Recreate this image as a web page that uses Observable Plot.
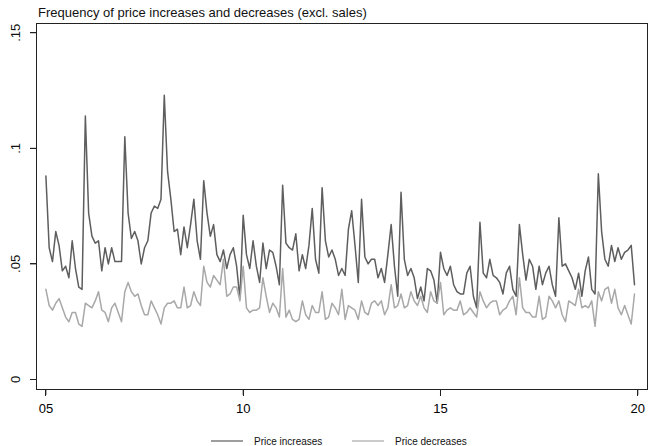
<!DOCTYPE html>
<html><head><meta charset="utf-8">
<script src="https://cdn.jsdelivr.net/npm/d3@7"></script>
<script src="https://cdn.jsdelivr.net/npm/@observablehq/plot@0.6"></script>
<style>body{margin:0;background:#fff} svg{display:block}</style>
</head><body><div id="chart"></div>
<script>
const startYear = 2005; // monthly data, Jan 2005 - Dec 2019
const increases = [
.088,.057,.051,.064,.058,.047,.049,.044,.060,.048,.040,.039,
.114,.072,.062,.059,.060,.047,.057,.050,.057,.051,.051,.051,
.105,.072,.061,.064,.060,.050,.057,.060,.072,.075,.074,.078,
.123,.090,.078,.064,.065,.054,.066,.057,.067,.078,.060,.052,
.086,.072,.062,.067,.054,.051,.056,.048,.054,.057,.049,.035,
.071,.054,.048,.060,.049,.042,.059,.048,.056,.055,.049,.041,
.084,.059,.057,.056,.063,.047,.054,.048,.058,.074,.052,.046,
.083,.060,.053,.056,.052,.045,.048,.045,.065,.073,.058,.042,
.078,.053,.050,.052,.052,.044,.048,.042,.054,.067,.049,.036,
.081,.052,.045,.048,.044,.035,.040,.034,.048,.047,.043,.033,
.055,.048,.045,.049,.041,.038,.037,.037,.046,.049,.036,.031,
.068,.046,.044,.052,.045,.044,.042,.037,.046,.049,.039,.036,
.067,.054,.043,.052,.049,.039,.049,.041,.046,.049,.041,.036,
.070,.049,.050,.047,.044,.039,.046,.036,.047,.053,.039,.037,
.089,.064,.052,.049,.058,.051,.057,.052,.055,.056,.058,.041
];
const decreases = [
.039,.032,.030,.033,.035,.031,.027,.025,.029,.029,.024,.023,
.033,.032,.031,.034,.038,.030,.029,.025,.031,.033,.029,.025,
.038,.042,.038,.036,.037,.032,.028,.028,.034,.031,.028,.024,
.031,.033,.033,.034,.031,.031,.040,.031,.032,.038,.034,.032,
.049,.042,.040,.045,.043,.041,.052,.036,.037,.040,.040,.034,
.049,.031,.029,.030,.030,.031,.044,.036,.029,.033,.031,.027,
.048,.027,.030,.026,.025,.026,.034,.028,.026,.032,.029,.029,
.038,.026,.027,.033,.031,.028,.039,.026,.032,.031,.030,.026,
.034,.029,.028,.033,.034,.032,.034,.028,.031,.041,.031,.032,
.037,.031,.032,.038,.034,.032,.036,.031,.029,.038,.034,.033,
.042,.028,.030,.031,.030,.030,.034,.028,.029,.031,.029,.027,
.038,.034,.031,.033,.034,.034,.028,.030,.031,.034,.036,.028,
.044,.031,.029,.029,.027,.027,.036,.026,.027,.036,.034,.031,
.034,.028,.025,.034,.033,.032,.039,.031,.032,.031,.034,.023,
.038,.034,.039,.040,.033,.039,.031,.028,.032,.028,.024,.037
];
const seriesNames = ["Price increases", "Price decreases"];
const seriesColors = ["#5e5e5e", "#a8a8a8"];
const yTicks = [0, 0.05, 0.1, 0.15];
const yTickLabels = ["0", ".05", ".1", ".15"];
const xTicks = [2005, 2010, 2015, 2020];
const xTickLabels = ["05", "10", "15", "20"];
const titleText = "Frequency of price increases and decreases (excl. sales)";

const xDomain = [2004.762, 2020.246];
const yDomain = [-0.00433, 0.154];

const rows = [];
increases.forEach((v, i) => rows.push({t: startYear + i / 12, v, s: seriesNames[0]}));
decreases.forEach((v, i) => rows.push({t: startYear + i / 12, v, s: seriesNames[1]}));

const font = "Liberation Sans, Arial, sans-serif";
const chart = Plot.plot({
  width: 649, height: 446,
  marginTop: 23, marginLeft: 36, marginRight: 2, marginBottom: 57,
  style: {fontFamily: font, fontSize: "13px", background: "white"},
  x: {domain: xDomain, label: null},
  y: {domain: yDomain, label: null},
  color: {domain: seriesNames, range: seriesColors},
  marks: [
    Plot.line(rows, {x: "t", y: "v", z: "s", stroke: "s", strokeWidth: 1.5}),
    Plot.frame({stroke: "#222", strokeWidth: 1}),
    Plot.axisX({ticks: xTicks, tickFormat: d => xTickLabels[xTicks.indexOf(d)], tickSize: 6, tickPadding: 8, stroke: "#222"}),
    Plot.axisY({ticks: yTicks, tickFormat: () => "", tickSize: 6, tickPadding: 0, stroke: "#222"}),
    Plot.text(yTicks, {x: xDomain[0], y: d => d, text: d => yTickLabels[yTicks.indexOf(d)], rotate: -90, textAnchor: "middle", lineAnchor: "bottom", dx: -16.5, fontSize: 13, fill: "#111"})
  ]
});
document.getElementById("chart").appendChild(chart);

// frame and tick lines as thin filled bars, positioned through the plot's own scales
const sx = chart.scale("x"), sy = chart.scale("y");
const svg = d3.select(chart);
const L = Math.round(sx.apply(xDomain[0])), R = Math.round(sx.apply(xDomain[1]));
const T = Math.round(sy.apply(yDomain[1])), B = Math.round(sy.apply(yDomain[0]));
const axes = svg.append("g").attr("fill", "#222").attr("stroke", "none");
const bar = (x, y, w, h) => axes.append("rect").attr("x", x).attr("y", y).attr("width", w).attr("height", h);
bar(L, T, R - L + 1, 1);
bar(L, B, R - L + 1, 1);
bar(L, T, 1, B - T + 1);
bar(R, T, 1, B - T + 1);
xTicks.forEach(t => bar(Math.round(sx.apply(t)), B, 1, 7));
yTicks.forEach(t => bar(L - 6, Math.round(sy.apply(t)), 7, 1));

svg.append("text").attr("x", 38).attr("y", 16.5).attr("text-anchor", "start")
  .attr("font-family", font).attr("font-size", 13).attr("fill", "#111").text(titleText);

const legend = svg.append("g").attr("font-family", font).attr("font-size", 10).attr("fill", "#111").attr("text-anchor", "start");
const legendX = [211, 352];
seriesNames.forEach((name, k) => {
  legend.append("line").attr("x1", legendX[k]).attr("x2", legendX[k] + 32)
    .attr("y1", 441).attr("y2", 441).attr("stroke", seriesColors[k]).attr("stroke-width", 1.2);
  legend.append("text").attr("x", legendX[k] + 43).attr("y", 444.5).attr("text-anchor", "start").text(name);
});
</script>
</body></html>
